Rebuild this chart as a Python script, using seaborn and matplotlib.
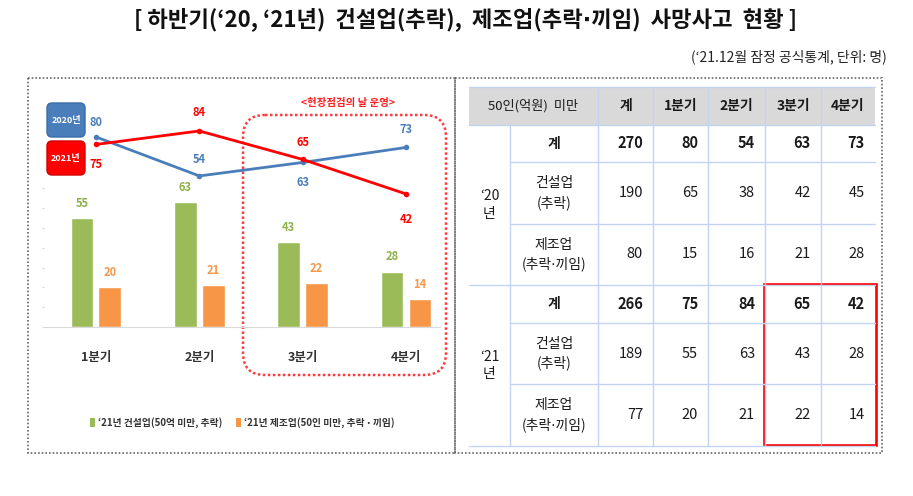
import matplotlib
matplotlib.use('Agg')
import matplotlib.pyplot as plt
import seaborn as sns
import pandas as pd
from matplotlib.patches import FancyBboxPatch, Rectangle

# ---------------- data ----------------
quarters = ['1분기', '2분기', '3분기', '4분기']
construction_21 = [55, 63, 43, 28]
manufacturing_21 = [20, 21, 22, 14]
total_20 = [80, 54, 63, 73]
total_21 = [75, 84, 65, 42]

bar_series = ['‘21년 건설업(50억 미만, 추락)', '‘21년 제조업(50인 미만, 추락 ⋅ 끼임)']
line_series = ['2020년', '2021년']

title = '[ 하반기(‘20, ‘21년)  건설업(추락),  제조업(추락⋅끼임)  사망사고  현황 ]'
subtitle = '(‘21.12월 잠정 공식통계, 단위: 명)'
period_note = '<현장점검의 날 운영>'

table_header = ['50인(억원)  미만', '계', '1분기', '2분기', '3분기', '4분기']
table_years = ['‘20\n년', '‘21\n년']
table_row_labels = ['계', '건설업\n(추락)', '제조업\n(추락⋅끼임)']
t20_total = [270, 80, 54, 63, 73]
t20_construction = [190, 65, 38, 42, 45]
t20_manufacturing = [80, 15, 16, 21, 28]
t21_total = [266, 75, 84, 65, 42]
t21_construction = [189, 55, 63, 43, 28]
t21_manufacturing = [77, 20, 21, 22, 14]

# ---------------- style ----------------
GREEN = '#9BBB59'
GREEN_TXT = '#8DB04A'
ORANGE = '#F79646'
BLUE = '#4A7EBB'
RED = '#FF0000'
GRID = '#C5D3F2'
off20 = [-14, -16, 20, -18]   # label offsets (pixels, + = down)
off21 = [20, -18, -17, 26]

sns.set_style('white')
plt.rcParams['font.family'] = ['Noto Sans CJK KR', 'DejaVu Sans']

W, H = 913, 496
fig = plt.figure(figsize=(W / 100, H / 100), dpi=100)
bg = fig.add_axes([0, 0, 1, 1], zorder=0)
bg.set_xlim(0, W)
bg.set_ylim(H, 0)
bg.axis('off')


def px_axes(x0, y0, x1, y1, **kw):
    return fig.add_axes([x0 / W, 1 - y1 / H, (x1 - x0) / W, (y1 - y0) / H], **kw)


# ---------------- header texts ----------------
bg.text(465.5, 19, title, ha='center', va='center', fontsize=16,
        fontweight='bold', color='#111111')
bg.text(887, 57, subtitle, ha='right', va='center', fontsize=10, color='#222222')

# dotted frames
for x0 in (28, 455):
    bg.add_patch(Rectangle((x0, 78), 427, 375, fill=False, ec='#666666',
                           lw=1.2, ls=(0, (1, 1.2))))

# ---------------- left chart ----------------
ax = px_axes(44, 90, 440, 327, zorder=2)
ax.patch.set_alpha(0)
df = pd.DataFrame({
    '분기': quarters * 2,
    '사망자': construction_21 + manufacturing_21,
    '구분': [bar_series[0]] * 4 + [bar_series[1]] * 4,
})
sns.barplot(data=df, x='분기', y='사망자', hue='구분', palette=[GREEN, ORANGE],
            width=0.54, gap=0.18, saturation=1, errorbar=None, ax=ax, legend=False)
for cont, col in zip(ax.containers, [GREEN_TXT, ORANGE]):
    ax.bar_label(cont, padding=6, color=col, fontsize=8, fontweight='bold')
ax.set_xlim(-0.503, 3.329)
ax.set_ylim(0, 119.7)
sns.despine(ax=ax, left=True)
ax.spines['bottom'].set_color('#D9D9D9')
ax.set_xlabel('')
ax.set_ylabel('')
ax.set_yticks(range(0, 80, 10))
ax.tick_params(axis='y', length=1.5, color='#D8D8D8', labelleft=False)
ax.tick_params(axis='x', length=0, pad=17, labelsize=9)
for t in ax.get_xticklabels():
    t.set_fontweight('bold')
    t.set_color('#333333')

ax2 = ax.twinx()
ax2.set_ylim(-46.7, 111.3)
ldf = pd.DataFrame({
    '분기': quarters * 2,
    '계': total_20 + total_21,
    '연도': [line_series[0]] * 4 + [line_series[1]] * 4,
})
sns.lineplot(data=ldf, x='분기', y='계', hue='연도', palette=[BLUE, RED], marker='o',
             markersize=4, markeredgewidth=0, linewidth=2, sort=False, ax=ax2, legend=False)
ax2.set_axis_off()
for ys, col, offs in [(total_20, BLUE, off20), (total_21, RED, off21)]:
    for i, (v, o) in enumerate(zip(ys, offs)):
        ax2.annotate(str(v), (i, v), xytext=(0, -o), textcoords='offset pixels',
                     ha='center', va='center', color=col, fontsize=8, fontweight='bold')

# highlight region
bg.add_patch(FancyBboxPatch((243, 115), 203, 260, boxstyle='round,pad=0,rounding_size=22',
                            fill=False, ec='#FF3B3B', lw=1.8, ls=(0, (1, 1))))
bg.text(348, 103, period_note, ha='center', va='center', color='#FF2020',
        fontsize=7.5, fontweight='bold')

# series labels
for (y0, col, ec, lab) in [(103, BLUE, '#3A6CA8', line_series[0]), (141, RED, '#D00000', line_series[1])]:
    bg.add_patch(FancyBboxPatch((47, y0), 38, 34, boxstyle='round,pad=0,rounding_size=5',
                                fc=col, ec=ec, lw=1))
    bg.text(66, y0 + 17, lab, ha='center', va='center', color='white',
            fontsize=6.5, fontweight='bold')

# bottom legend
for (x0, col, lab) in [(90, GREEN, bar_series[0]), (236, ORANGE, bar_series[1])]:
    bg.add_patch(Rectangle((x0, 418), 5, 9, fc=col, ec='none'))
    bg.text(x0 + 8, 423, lab, ha='left', va='center', color='#333333',
            fontsize=7, fontweight='bold')

# ---------------- table ----------------
xe = [469, 510, 598, 653, 708, 765, 821, 875]
ye = [87, 125, 162, 224, 285, 323, 384, 446]
bg.add_patch(Rectangle((xe[0], ye[0]), xe[-1] - xe[0], ye[1] - ye[0], fc='#D9D9D9', ec='none'))
for y in (ye[0], ye[1], ye[4], ye[7]):
    bg.plot([xe[0], xe[-1]], [y, y], color=GRID, lw=1)
for y in (ye[2], ye[3], ye[5], ye[6]):
    bg.plot([xe[1], xe[-1]], [y, y], color=GRID, lw=1)
bg.plot([xe[1], xe[1]], [ye[1], ye[7]], color=GRID, lw=1)
for x in xe[2:7]:
    bg.plot([x, x], [ye[0], ye[7]], color=GRID, lw=1)

tcol = '#1A1A1A'
hy = (ye[0] + ye[1]) / 2
bg.text((xe[0] + xe[2]) / 2, hy, table_header[0], ha='center', va='center',
        fontsize=9.5, fontweight='medium', color=tcol)
for j, lab in enumerate(table_header[1:]):
    bg.text((xe[2 + j] + xe[3 + j]) / 2, hy, lab, ha='center', va='center',
            fontsize=10, fontweight='bold', color=tcol)

blocks = [(table_years[0], [t20_total, t20_construction, t20_manufacturing], 1),
          (table_years[1], [t21_total, t21_construction, t21_manufacturing], 4)]
for ylab, rows, r0 in blocks:
    bg.text((xe[0] + xe[1]) / 2, (ye[r0] + ye[r0 + 3]) / 2, ylab, ha='center', va='center',
            fontsize=10, color=tcol, linespacing=1.3)
    for k, (rlab, vals) in enumerate(zip(table_row_labels, rows)):
        yc = (ye[r0 + k] + ye[r0 + k + 1]) / 2
        w = 'bold' if k == 0 else 'normal'
        bg.text((xe[1] + xe[2]) / 2, yc, rlab, ha='center', va='center', fontsize=10,
                fontweight=w, color=tcol, linespacing=1.4)
        for j, v in enumerate(vals):
            bg.text(xe[3 + j] - 10, yc, str(v), ha='right', va='center', fontsize=10.5,
                    fontweight=w, color=tcol)

# red highlight box
bg.add_patch(Rectangle((764, 284), 112, 161, fill=False, ec=RED, lw=1.9))

fig.savefig('out.png', dpi=100)
